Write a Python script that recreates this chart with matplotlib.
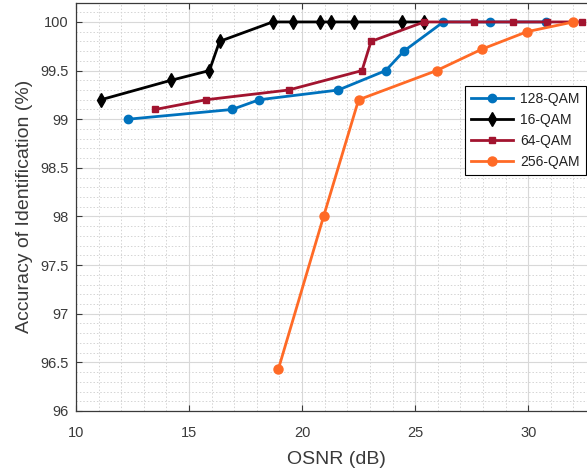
import matplotlib
matplotlib.use("Agg")
import matplotlib.pyplot as plt
from matplotlib.ticker import MultipleLocator

plt.rcParams['font.family'] = ['Liberation Sans', 'DejaVu Sans']

# values
qam128_x = [12.3, 16.9, 18.1, 21.6, 23.7, 24.5, 26.25, 28.3, 30.8]
qam128_y = [99.0, 99.1, 99.2, 99.3, 99.5, 99.7, 100.0, 100.0, 100.0]

qam16_x = [11.1, 14.2, 15.9, 16.35, 18.7, 19.6, 20.8, 21.3, 22.3, 24.4, 25.4]
qam16_y = [99.2, 99.4, 99.5, 99.8, 100.0, 100.0, 100.0, 100.0, 100.0, 100.0, 100.0]

qam64_x = [13.5, 15.75, 19.4, 22.65, 23.05, 25.4, 27.6, 29.35, 30.85, 32.4]
qam64_y = [99.1, 99.2, 99.3, 99.5, 99.8, 100.0, 100.0, 100.0, 100.0, 100.0]

qam256_x = [18.95, 20.95, 22.5, 25.95, 27.95, 29.95, 32.0]
qam256_y = [96.43, 98.0, 99.2, 99.5, 99.72, 99.9, 100.0]

ytick_vals = [96, 96.5, 97, 97.5, 98, 98.5, 99, 99.5, 100]
ytick_text = ['96', '96.5', '97', '97.5', '98', '98.5', '99', '99.5', '100']

fig = plt.figure(figsize=(5.87, 4.71), dpi=100)
ax = fig.add_axes([76 / 587, 60 / 471, 520 / 587, 408.5 / 471])

ax.plot(qam128_x, qam128_y, color='#0072BD', lw=2, marker='o', ms=6, label='128-QAM')
ax.plot(qam16_x, qam16_y, color='black', lw=2, marker='d', ms=7, label='16-QAM')
ax.plot(qam64_x, qam64_y, color='#A2142F', lw=2, marker='s', ms=4.5, label='64-QAM')
ax.plot(qam256_x, qam256_y, color='#FF6A26', lw=2, marker='o', ms=6.5, label='256-QAM')

ax.set_xlim(10, 33)
ax.set_ylim(96, 100.2)
ax.xaxis.set_major_locator(MultipleLocator(5))
ax.xaxis.set_minor_locator(MultipleLocator(1))
ax.yaxis.set_minor_locator(MultipleLocator(0.1))
ax.set_yticks(ytick_vals)
ax.set_yticklabels(ytick_text)

ax.grid(which='major', color='#d8d8d8', lw=0.8)
ax.grid(which='minor', color='#d4d4d4', lw=0.7, ls=(0, (1.5, 2)))
ax.set_axisbelow(True)

ax.tick_params(which='both', direction='in', top=True, right=False, colors='#3a3a3a',
               labelsize=10.5, labelcolor='#3a3a3a')
ax.tick_params(which='minor', length=0)
ax.tick_params(which='major', length=4)
ax.tick_params(axis='x', pad=10.5)
ax.tick_params(axis='y', pad=5.5)
for s in ax.spines.values():
    s.set_color('#3a3a3a')
    s.set_linewidth(0.9)

ax.set_xlabel('OSNR (dB)', fontsize=14, color='#3a3a3a', labelpad=8)
ax.set_ylabel('Accuracy of Identification (%)', fontsize=14, color='#3a3a3a', labelpad=5)

leg = ax.legend(loc='upper left', bbox_to_anchor=(0.748, 0.796), borderaxespad=0,
                fontsize=10, fancybox=False, framealpha=1, edgecolor='black',
                handlelength=3.0, labelspacing=0.5, handletextpad=0.5,
                borderpad=0.45)
leg.get_frame().set_linewidth(0.8)
for t in leg.get_texts():
    t.set_color('#222222')

fig.savefig('out.png', dpi=100)
